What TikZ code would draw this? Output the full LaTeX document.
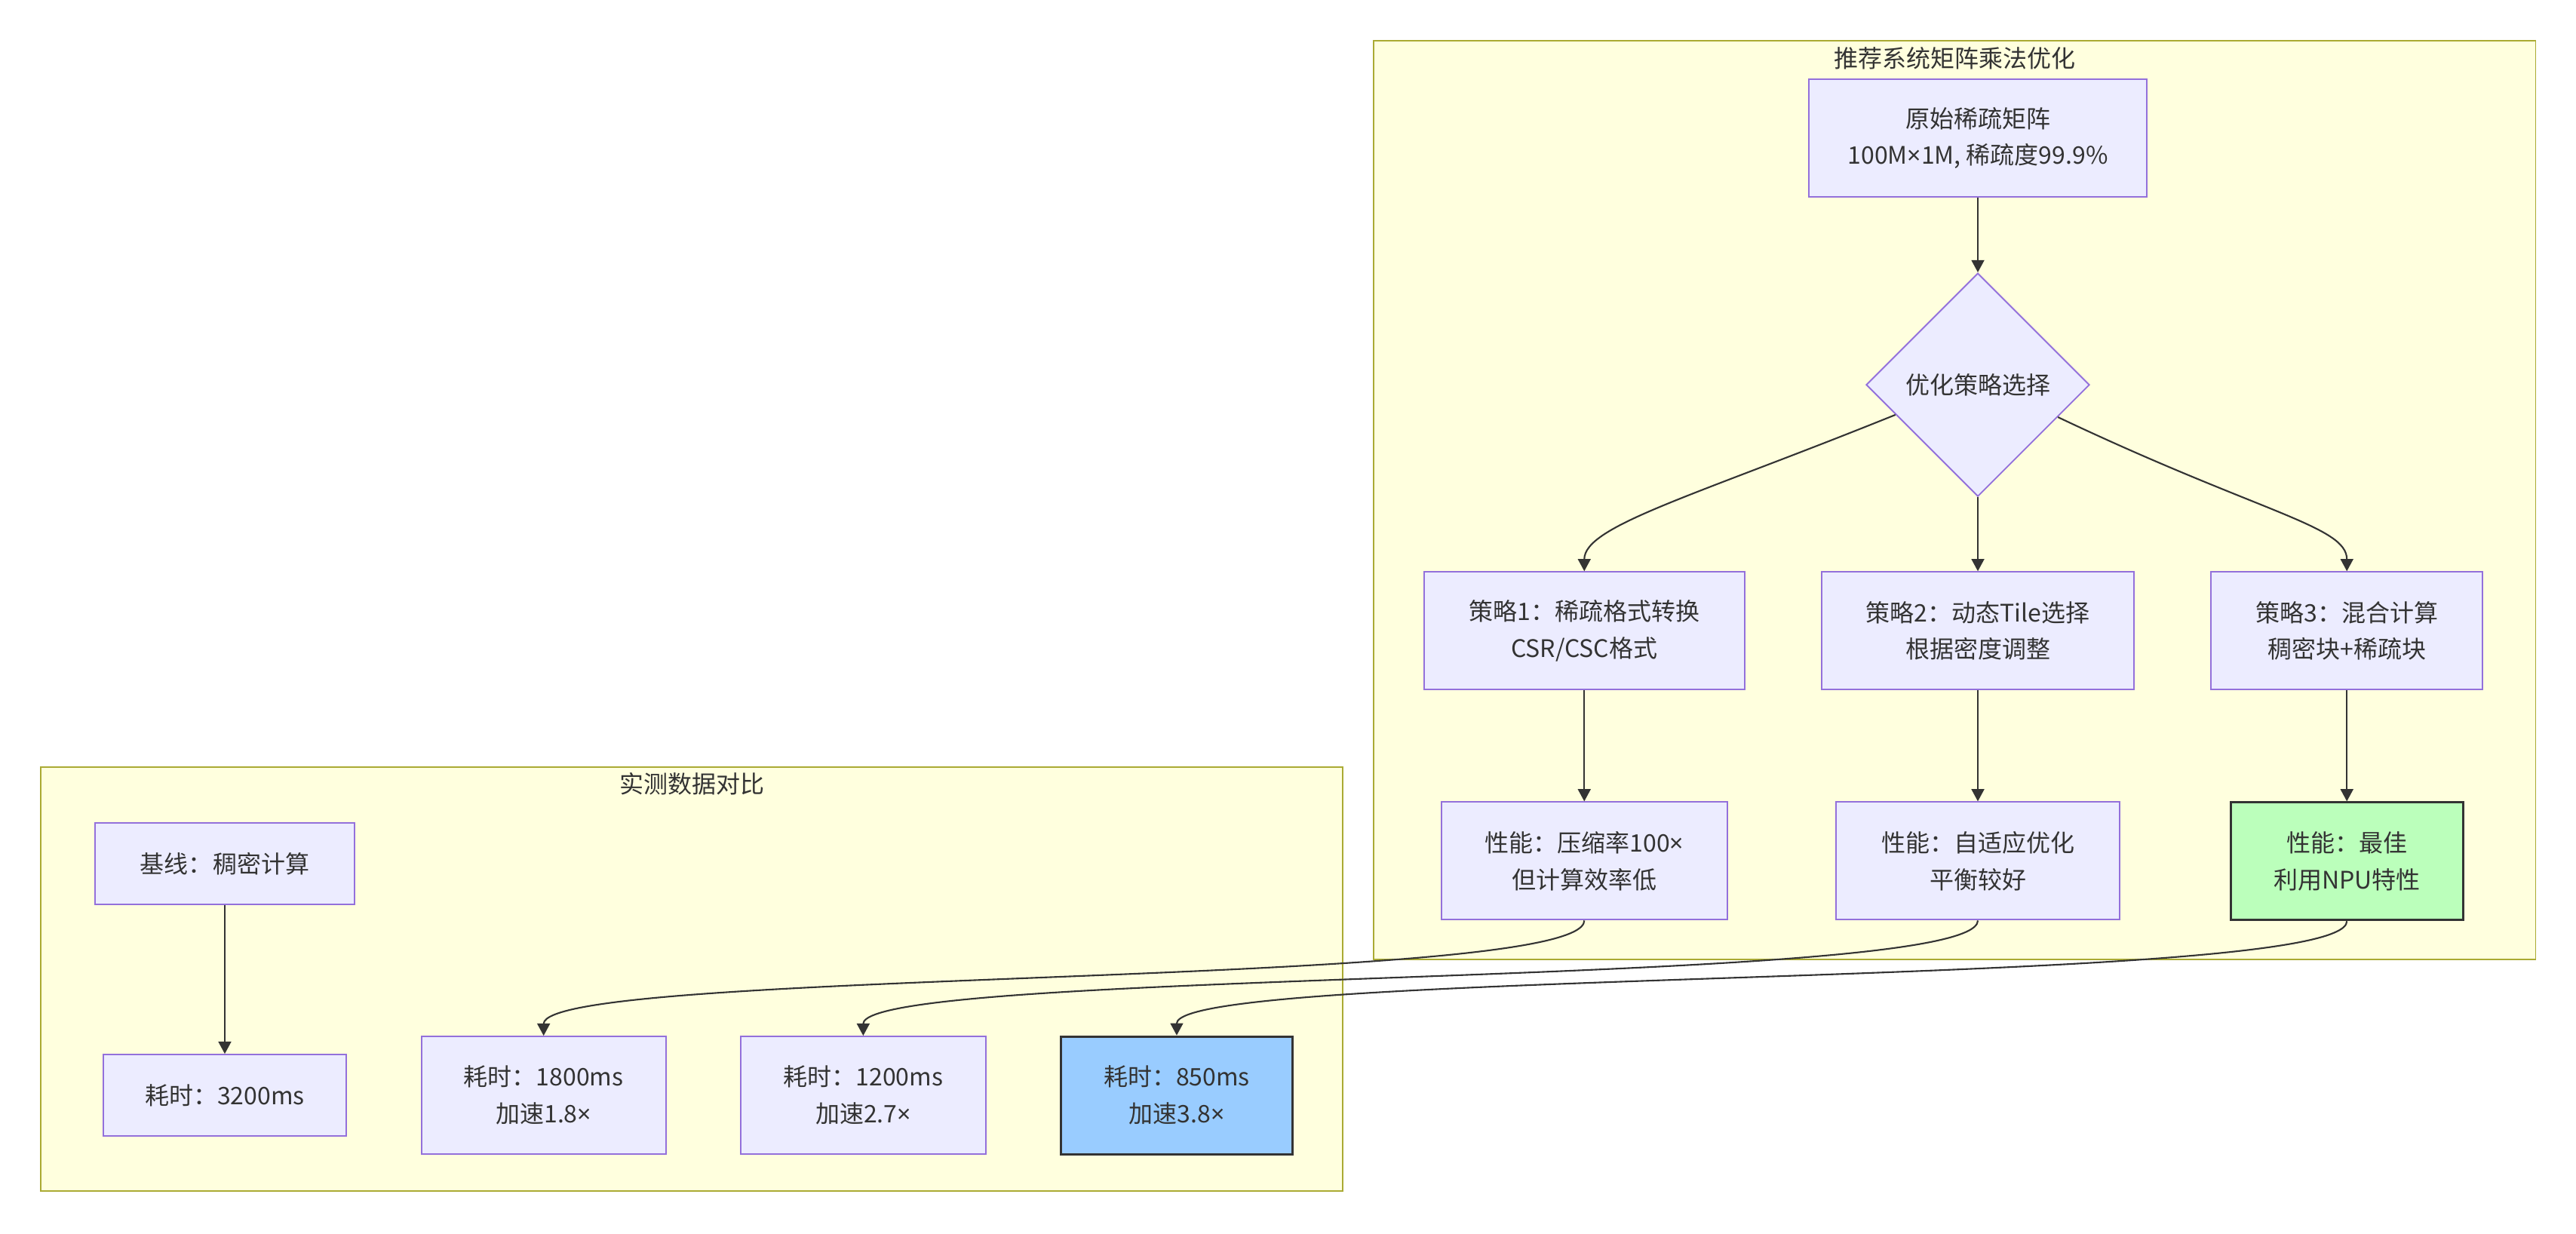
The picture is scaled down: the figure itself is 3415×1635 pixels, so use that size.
\documentclass[tikz,border=0pt]{standalone}
\usepackage{fontspec}
\setmainfont{Noto Sans CJK SC}
\newfontfamily\latinfont{Noto Sans}
\usepackage{tikz}
\usetikzlibrary{shapes.geometric, arrows.meta, positioning}
\usepackage{xcolor}
\definecolor{nodecolor}{HTML}{ECECFF}
\definecolor{nodeborder}{HTML}{9370DB}
\definecolor{groupcolor}{HTML}{FFFFDE}
\definecolor{groupborder}{HTML}{AAAA33}
\definecolor{bestcolor}{HTML}{BBFFBB}
\definecolor{fastcolor}{HTML}{99CCFF}
\definecolor{inkcolor}{HTML}{333333}
\newcommand{\tms}{{\latinfont ×}}

\begin{document}
\begin{tikzpicture}[
    x=0.01cm, y=-0.01cm,
    >={Triangle[length=4.6pt, width=4.8pt]},
    font=\fontsize{9.1}{13.9}\selectfont,
    text=inkcolor,
    box/.style={rectangle, draw=nodeborder, line width=0.55pt, fill=nodecolor, align=center, minimum height=1.56cm, inner sep=0pt},
    shortbox/.style={box, minimum height=1.08cm},
    choice/.style={diamond, draw=nodeborder, line width=0.55pt, fill=nodecolor, aspect=1, minimum width=2.96cm, minimum height=2.96cm, inner sep=0pt},
    group/.style={rectangle, draw=groupborder, line width=0.55pt, fill=groupcolor, inner sep=0pt},
    link/.style={->, draw=inkcolor, line width=0.6pt}
]
\useasboundingbox (0,0) rectangle (3415,1635);

\node[group, minimum width=15.4cm, minimum height=12.18cm] (optgroup) at (2591,663) {};
\node[inner sep=0pt] (optitle) at ([yshift=-0.25cm]optgroup.north) {推荐系统矩阵乘法优化};
\node[group, minimum width=17.25cm, minimum height=5.62cm] (measgroup) at (917,1298) {};
\node[inner sep=0pt] (meastitle) at ([yshift=-0.23cm]measgroup.north) {实测数据对比};

\node[box, minimum width=4.48cm] (orig) at (2622,183) {原始稀疏矩阵\\100M\tms1M, 稀疏度99.9\%};
\node[choice, below=0.99cm of orig] (pick) {优化策略选择};
\node[box, minimum width=4.14cm, below=0.98cm of pick] (tile) {策略2：动态Tile选择\\根据密度调整};
\node[box, minimum width=4.25cm, left=1cm of tile] (fmt) {策略1：稀疏格式转换\\CSR/CSC格式};
\node[box, minimum width=3.6cm, right=1cm of tile] (mix) {策略3：混合计算\\稠密块+稀疏块};
\node[box, minimum width=3.79cm, below=1.47cm of fmt] (perffmt) {性能：压缩率100\tms\\但计算效率低};
\node[box, minimum width=3.76cm, below=1.47cm of tile] (perftile) {性能：自适应优化\\平衡较好};
\node[box, minimum width=3.08cm, below=1.47cm of mix, fill=bestcolor, draw=inkcolor, line width=0.8pt] (perfmix) {性能：最佳\\利用NPU特性};

\node[shortbox, minimum width=3.44cm] (dense) at (298,1145) {基线：稠密计算};
\node[shortbox, minimum width=3.21cm, below=1.97cm of dense] (densetime) {耗时：3200ms};
\node[box, minimum width=3.24cm, right=0.98cm of densetime] (fmttime) {耗时：1800ms\\加速1.8\tms};
\node[box, minimum width=3.25cm, right=0.97cm of fmttime] (tiletime) {耗时：1200ms\\加速2.7\tms};
\node[box, minimum width=3.07cm, right=0.97cm of tiletime, fill=fastcolor, draw=inkcolor, line width=0.8pt] (mixtime) {耗时：850ms\\加速3.8\tms};

\draw[link] (orig) -- (pick);
\draw[link] (pick.200) .. controls +(-270,109) and +(0,-60) .. (fmt.north);
\draw[link] (pick) -- (tile);
\draw[link] (pick.338) .. controls +(270,128) and +(0,-60) .. (mix.north);
\draw[link] (fmt) -- (perffmt);
\draw[link] (tile) -- (perftile);
\draw[link] (mix) -- (perfmix);
\draw[link] (dense) -- (densetime);
\draw[link] (perffmt.south) .. controls +(0,90) and +(0,-90) .. (fmttime.north);
\draw[link] (perftile.south) .. controls +(0,90) and +(0,-90) .. (tiletime.north);
\draw[link] (perfmix.south) .. controls +(0,90) and +(0,-90) .. (mixtime.north);
\end{tikzpicture}
\end{document}
